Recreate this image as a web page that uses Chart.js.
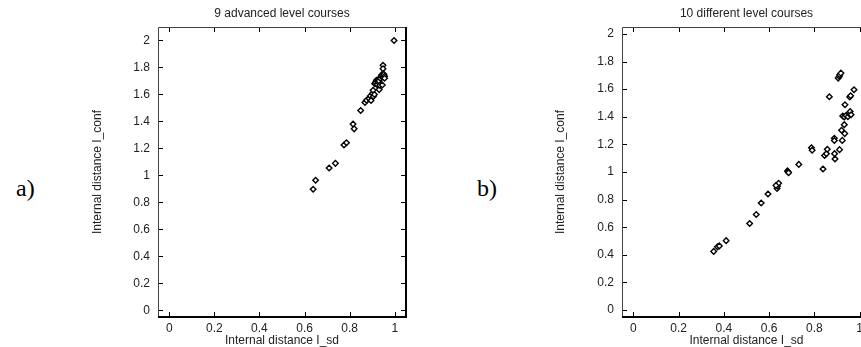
<!DOCTYPE html>
<html>
<head>
<meta charset="utf-8">
<title>Internal distance</title>
<script src="https://cdn.jsdelivr.net/npm/chart.js@4.4.1/dist/chart.umd.min.js"></script>
<style>
html, body { margin: 0; padding: 0; background: #fff; overflow: hidden; width: 861px; height: 347px; }
.panel { position: absolute; top: 0; width: 340px; height: 347px; }
.tag { position: absolute; font-family: "Liberation Serif", "DejaVu Serif", serif; font-size: 24px; line-height: 24px; color: #000; }
</style>
</head>
<body>
<div class="tag" style="left:16px; top:176px">a)</div>
<div class="tag" style="left:477px; top:176px">b)</div>
<div class="panel" style="left:80px"><canvas id="chartA"></canvas></div>
<div class="panel" style="left:545px"><canvas id="chartB"></canvas></div>
<script>
// tick values / labels
var xTicks = [0, 0.2, 0.4, 0.6, 0.8, 1];
var xTickLabels = ['0', '0.2', '0.4', '0.6', '0.8', '1'];
var yTicks = [0, 0.2, 0.4, 0.6, 0.8, 1, 1.2, 1.4, 1.6, 1.8, 2];
var yTickLabels = ['0', '0.2', '0.4', '0.6', '0.8', '1', '1.2', '1.4', '1.6', '1.8', '2'];

// a) 9 advanced level courses
var advancedSd = [0.638, 0.649, 0.709, 0.737, 0.775, 0.786, 0.815, 0.820, 0.849, 0.868,
  0.875, 0.886, 0.892, 0.895, 0.901, 0.904, 0.905, 0.910, 0.911, 0.915,
  0.919, 0.922, 0.925, 0.926, 0.928, 0.930, 0.931, 0.934, 0.936, 0.940,
  0.942, 0.945, 0.945, 0.948, 0.948, 0.948, 0.952, 0.955, 0.955, 0.997];
var advancedConf = [0.897, 0.964, 1.055, 1.089, 1.225, 1.242, 1.380, 1.345, 1.481, 1.540,
  1.557, 1.570, 1.589, 1.555, 1.607, 1.631, 1.585, 1.600, 1.680, 1.690,
  1.705, 1.672, 1.700, 1.693, 1.710, 1.700, 1.636, 1.668, 1.720, 1.735,
  1.745, 1.744, 1.670, 1.730, 1.816, 1.791, 1.750, 1.735, 1.720, 2.000];

// b) 10 different level courses
var differentSd = [0.355, 0.372, 0.380, 0.410, 0.514, 0.543, 0.565, 0.595, 0.635, 0.637,
  0.642, 0.630, 0.681, 0.684, 0.686, 0.731, 0.787, 0.790, 0.838, 0.845,
  0.853, 0.857, 0.866, 0.888, 0.888, 0.889, 0.891, 0.911, 0.905, 0.910,
  0.912, 0.917, 0.920, 0.923, 0.925, 0.932, 0.932, 0.934, 0.935, 0.940,
  0.948, 0.955, 0.958, 0.962, 0.956, 0.960, 0.975];
var differentConf = [0.425, 0.458, 0.465, 0.503, 0.627, 0.692, 0.776, 0.841, 0.880, 0.897,
  0.918, 0.902, 1.008, 1.000, 0.995, 1.055, 1.176, 1.157, 1.022, 1.120,
  1.133, 1.165, 1.545, 1.245, 1.228, 1.133, 1.095, 1.162, 1.680, 1.692,
  1.704, 1.716, 1.302, 1.229, 1.405, 1.398, 1.343, 1.278, 1.487, 1.410,
  1.400, 1.420, 1.438, 1.415, 1.543, 1.552, 1.596];

var fontFam = '"Liberation Sans", Arial, Helvetica, sans-serif';
var textCol = '#222';

function toPoints(xs, ys) {
  return xs.map(function(x, i) { return { x: x, y: ys[i] }; });
}

// gnuplot-like frame with ticks pointing inwards on all four sides
var frameTicks = {
  id: 'frameTicks',
  afterDatasetsDraw: function(chart) {
    var a = chart.chartArea, ctx = chart.ctx;
    var xs = chart.scales.x, ys = chart.scales.y;
    var len = 5;
    ctx.save();
    ctx.strokeStyle = '#000';
    ctx.lineWidth = 1;
    ctx.beginPath();
    xs.ticks.forEach(function(t) {
      var p = Math.round(xs.getPixelForValue(t.value)) + 0.5;
      ctx.moveTo(p, a.bottom); ctx.lineTo(p, a.bottom - len);
      ctx.moveTo(p, a.top); ctx.lineTo(p, a.top + len);
    });
    ys.ticks.forEach(function(t) {
      var p = Math.round(ys.getPixelForValue(t.value)) + 0.5;
      ctx.moveTo(a.left, p); ctx.lineTo(a.left + len, p);
      ctx.moveTo(a.right, p); ctx.lineTo(a.right - len, p);
    });
    ctx.stroke();

    // thin left/top, heavier right/bottom
    ctx.strokeStyle = '#444';
    ctx.beginPath();
    ctx.moveTo(a.left + 0.5, a.bottom); ctx.lineTo(a.left + 0.5, a.top + 0.5); ctx.lineTo(a.right, a.top + 0.5);
    ctx.stroke();
    ctx.strokeStyle = '#000';
    ctx.lineWidth = 2;
    ctx.beginPath();
    ctx.moveTo(a.right, a.top); ctx.lineTo(a.right, a.bottom); ctx.lineTo(a.left, a.bottom);
    ctx.stroke();
    ctx.restore();
  }
};

function makeChart(id, title, xs, ys, yMax, yAxisWidth, yTitlePad) {
  return new Chart(document.getElementById(id), {
    type: 'scatter',
    data: {
      datasets: [{
        data: toPoints(xs, ys),
        pointStyle: 'rectRot',
        pointRadius: 2.8,
        pointBorderWidth: 1.4,
        borderColor: '#000',
        backgroundColor: '#fff'
      }]
    },
    options: {
      responsive: true,
      maintainAspectRatio: false,
      animation: false,
      layout: { padding: { left: 0, right: 14, top: 0, bottom: 0 } },
      plugins: {
        legend: { display: false },
        tooltip: { enabled: false },
        title: {
          display: true,
          text: title,
          fullSize: false,
          color: textCol,
          font: { family: fontFam, size: 12, weight: 'normal', lineHeight: 1.2 },
          padding: { top: 6, bottom: 6.6 }
        }
      },
      scales: {
        x: {
          type: 'linear',
          min: -0.05,
          max: 1.05,
          afterBuildTicks: function(s) { s.ticks = xTicks.map(function(v) { return { value: v }; }); },
          afterFit: function(s) { s.height = 30; },
          grid: { display: false, drawTicks: false },
          border: { display: false },
          ticks: {
            padding: 4, color: textCol, autoSkip: false, maxRotation: 0,
            font: { family: fontFam, size: 12 },
            callback: function(v, i) { return xTickLabels[i]; }
          },
          title: {
            display: true, text: 'Internal distance I_sd', color: textCol,
            font: { family: fontFam, size: 12, lineHeight: 1 },
            padding: { top: 0, bottom: 0 }
          }
        },
        y: {
          type: 'linear',
          min: -0.05,
          max: yMax,
          afterBuildTicks: function(s) { s.ticks = yTicks.map(function(v) { return { value: v }; }); },
          afterFit: function(s) { s.width = yAxisWidth; },
          grid: { display: false, drawTicks: false },
          border: { display: false },
          ticks: {
            padding: 8, color: textCol, autoSkip: false,
            font: { family: fontFam, size: 12 },
            callback: function(v, i) { return yTickLabels[i]; }
          },
          title: {
            display: true, text: 'Internal distance I_conf', color: textCol,
            font: { family: fontFam, size: 12, lineHeight: 1.2 },
            padding: { top: yTitlePad, bottom: 0 }
          }
        }
      }
    },
    plugins: [frameTicks]
  });
}

makeChart('chartA', '9 advanced level courses', advancedSd, advancedConf, 2.1, 78, 10);
makeChart('chartB', '10 different level courses', differentSd, differentConf, 2.05, 77, 8);
</script>
</body>
</html>
